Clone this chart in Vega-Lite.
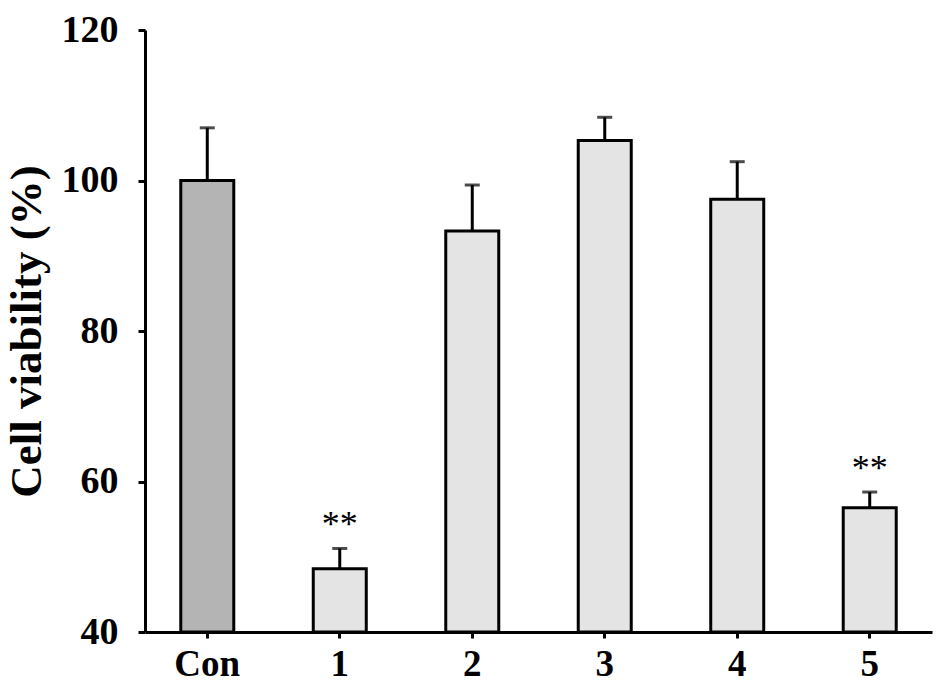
{
  "$schema": "https://vega.github.io/schema/vega-lite/v6.json",
  "width": 787,
  "height": 602,
  "autosize": {"type": "none"},
  "padding": {"left": 145, "top": 30, "right": 13, "bottom": 62},
  "background": "white",
  "config": {
    "view": {"stroke": null},
    "font": "Liberation Serif",
    "axis": {"grid": false, "domainColor": "black", "domainWidth": 3, "tickColor": "black", "tickWidth": 3, "labelColor": "black", "titleColor": "black", "labelFont": "Liberation Serif", "titleFont": "Liberation Serif", "labelFontWeight": "bold", "titleFontWeight": "bold"}
  },
  "data": {
    "values": [
      {"group": "Con", "value": 100.0, "hi": 107.0, "sig": "", "kind": "control"},
      {"group": "1", "value": 48.4, "hi": 51.1, "sig": "**", "kind": "treated"},
      {"group": "2", "value": 93.3, "hi": 99.4, "sig": "", "kind": "treated"},
      {"group": "3", "value": 105.3, "hi": 108.4, "sig": "", "kind": "treated"},
      {"group": "4", "value": 97.5, "hi": 102.5, "sig": "", "kind": "treated"},
      {"group": "5", "value": 56.5, "hi": 58.6, "sig": "**", "kind": "treated"}
    ]
  },
  "encoding": {
    "x": {
      "field": "group", "type": "nominal", "sort": null,
      "scale": {"paddingInner": 0.6, "paddingOuter": 0.27},
      "axis": {"title": null, "labelAngle": 0, "labelFontSize": 37, "labelPadding": 8, "tickSize": 6, "zindex": 1}
    }
  },
  "layer": [
    {
      "mark": {"type": "rule", "stroke": "black", "strokeWidth": 3},
      "encoding": {
        "y": {
          "field": "value", "type": "quantitative",
          "scale": {"domain": [40, 120], "zero": false, "nice": false},
          "axis": {"title": "Cell viability (%)", "titleFontSize": 45, "titlePadding": 12, "values": [40, 60, 80, 100, 120], "labelFontSize": 38, "labelPadding": 20, "tickSize": 7, "zindex": 1}
        },
        "y2": {"field": "hi"}
      }
    },
    {
      "mark": {"type": "tick", "color": "black", "size": 15, "thickness": 3, "orient": "horizontal"},
      "encoding": {
        "y": {"field": "hi", "type": "quantitative"}
      }
    },
    {
      "mark": {"type": "bar", "stroke": "black", "strokeWidth": 3, "width": 53},
      "encoding": {
        "y": {"field": "value", "type": "quantitative"},
        "y2": {"datum": 40},
        "fill": {
          "field": "kind", "type": "nominal",
          "scale": {"domain": ["control", "treated"], "range": ["#b4b4b4", "#e4e4e4"]},
          "legend": null
        }
      }
    },
    {
      "mark": {"type": "text", "fontSize": 36, "baseline": "bottom", "dy": -4, "color": "black", "font": "Liberation Serif"},
      "encoding": {
        "y": {"field": "hi", "type": "quantitative"},
        "text": {"field": "sig"}
      }
    }
  ]
}
